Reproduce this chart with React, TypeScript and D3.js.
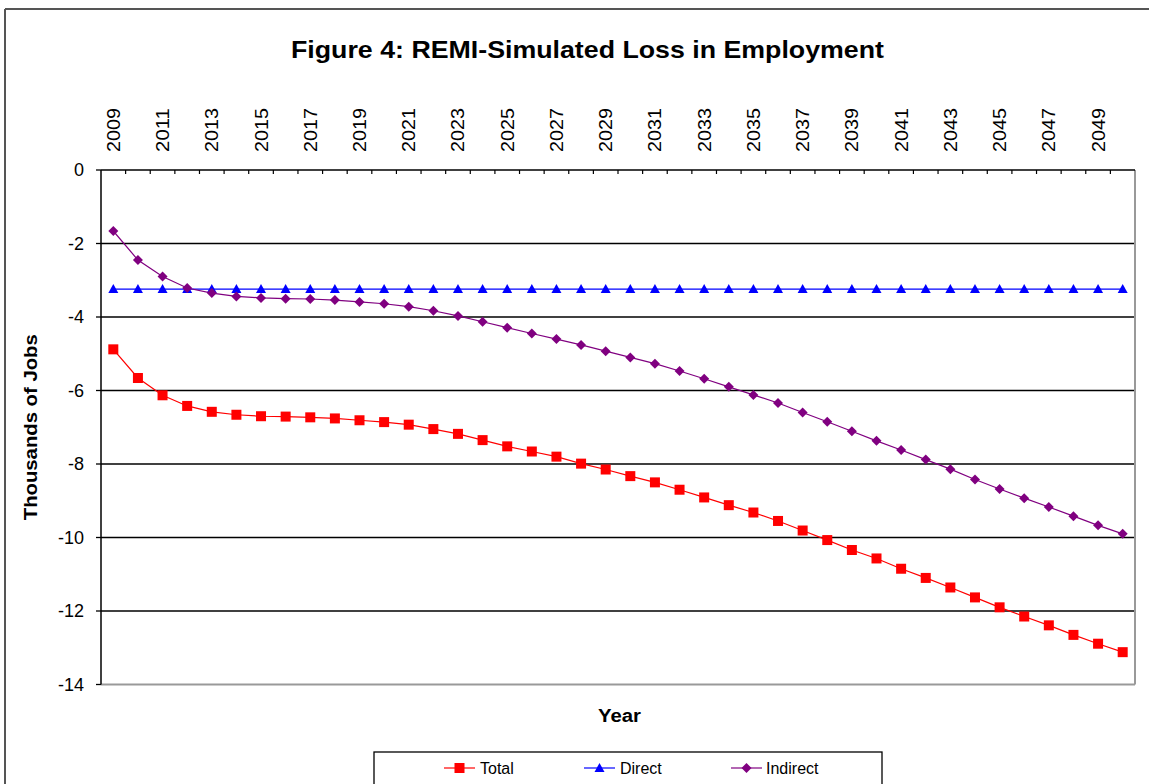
import React from "react";
import * as d3 from "d3";

const years = [
  "2009","2010","2011","2012","2013","2014","2015","2016","2017","2018",
  "2019","2020","2021","2022","2023","2024","2025","2026","2027","2028",
  "2029","2030","2031","2032","2033","2034","2035","2036","2037","2038",
  "2039","2040","2041","2042","2043","2044","2045","2046","2047","2048",
  "2049","2050",
];

const totalJobs = [
  -4.88, -5.66, -6.13, -6.42, -6.58, -6.66, -6.70, -6.71, -6.73, -6.76,
  -6.81, -6.86, -6.93, -7.05, -7.18, -7.35, -7.52, -7.66, -7.80, -7.99,
  -8.15, -8.33, -8.50, -8.70, -8.91, -9.12, -9.32, -9.55, -9.81, -10.07,
  -10.34, -10.57, -10.85, -11.10, -11.36, -11.63, -11.90, -12.15, -12.39, -12.65,
  -12.89, -13.12,
];

const directJobs = [
  -3.24, -3.24, -3.24, -3.24, -3.24, -3.24, -3.24, -3.24, -3.24, -3.24,
  -3.24, -3.24, -3.24, -3.24, -3.24, -3.24, -3.24, -3.24, -3.24, -3.24,
  -3.24, -3.24, -3.24, -3.24, -3.24, -3.24, -3.24, -3.24, -3.24, -3.24,
  -3.24, -3.24, -3.24, -3.24, -3.24, -3.24, -3.24, -3.24, -3.24, -3.24,
  -3.24, -3.24,
];

const indirectJobs = [
  -1.66, -2.45, -2.90, -3.21, -3.35, -3.44, -3.48, -3.50, -3.51, -3.54,
  -3.59, -3.64, -3.72, -3.83, -3.97, -4.13, -4.29, -4.45, -4.60, -4.76,
  -4.93, -5.10, -5.27, -5.47, -5.68, -5.90, -6.12, -6.34, -6.60, -6.85,
  -7.11, -7.37, -7.62, -7.88, -8.14, -8.42, -8.68, -8.93, -9.17, -9.42,
  -9.67, -9.90,
];

const yTicks = [0, -2, -4, -6, -8, -10, -12, -14];
const yearLabels = years.filter((_, i) => i % 2 === 0);

const seriesNames = ["Total", "Direct", "Indirect"];
const seriesColors = ["#FF0000", "#0000FF", "#800080"];
const seriesShapes = ["square", "triangle", "diamond"];
const seriesData = [totalJobs, directJobs, indirectJobs];

const W = 1149;
const H = 784;
const plot = { left: 101, right: 1135, top: 170, bottom: 684.5 };
const FONT = "Arial, 'Liberation Sans', Helvetica, sans-serif";

function Marker({ shape, x, y, color }: { shape: string; x: number; y: number; color: string }) {
  if (shape === "square") {
    return <rect x={x - 5} y={y - 5} width={10} height={10} fill={color} />;
  }
  if (shape === "triangle") {
    return <path d={`M${x},${y - 5}L${x + 5},${y + 4}L${x - 5},${y + 4}Z`} fill={color} />;
  }
  return <path d={`M${x},${y - 5}L${x + 5},${y}L${x},${y + 5}L${x - 5},${y}Z`} fill={color} />;
}

export default function App() {
  const x = d3.scaleBand<string>().domain(years).range([plot.left, plot.right]).padding(0);
  const y = d3.scaleLinear().domain([-14, 0]).range([plot.bottom, plot.top]);
  const cx = (yr: string) => (x(yr) as number) + x.bandwidth() / 2;

  const line = d3
    .line<number>()
    .x((_, i) => cx(years[i]))
    .y((d) => y(d));

  const bandEdges = years.map((yr) => (x(yr) as number) + x.bandwidth()).slice(0, -1);

  const legendItems = [
    { lx: 444, tx: 480 },
    { lx: 584, tx: 620 },
    { lx: 731, tx: 766 },
  ];

  return (
    <svg
      width={W}
      height={H}
      style={{ position: "fixed", left: 0, top: 0, background: "#fff" }}
      fontFamily={FONT}
    >
      <rect x={0} y={0} width={W} height={H} fill="#fff" />
      {/* outer chart frame */}
      <line x1={5} y1={9} x2={W + 2} y2={9} stroke="#555" strokeWidth={2} />
      <line x1={5} y1={9} x2={5} y2={H + 2} stroke="#555" strokeWidth={2} />

      {/* title */}
      <text
        x={291}
        y={58}
        fontSize={24}
        fontWeight="bold"
        fill="#000"
        textLength={593}
        lengthAdjust="spacingAndGlyphs"
      >
        Figure 4: REMI-Simulated Loss in Employment
      </text>

      {/* gridlines */}
      {yTicks
        .filter((t) => t !== 0 && t !== -14)
        .map((t) => (
          <line key={t} x1={plot.left} x2={plot.right} y1={y(t)} y2={y(t)} stroke="#000" strokeWidth={1.3} />
        ))}

      {/* plot border right & bottom (gray) */}
      <line x1={plot.right} y1={plot.top} x2={plot.right} y2={plot.bottom} stroke="#999" strokeWidth={2} />
      <line x1={plot.left} y1={plot.bottom} x2={plot.right} y2={plot.bottom} stroke="#999" strokeWidth={2} />

      {/* left axis */}
      <line x1={plot.left} y1={plot.top} x2={plot.left} y2={plot.bottom} stroke="#000" strokeWidth={1.5} />
      {yTicks.map((t) => (
        <g key={t}>
          <line x1={plot.left - 5} x2={plot.left} y1={y(t)} y2={y(t)} stroke="#000" strokeWidth={1.3} />
          <text x={84} y={y(t)} dy="0.35em" textAnchor="end" fontSize={18} fill="#000">
            {t}
          </text>
        </g>
      ))}

      {/* top category axis */}
      <line x1={plot.left} y1={plot.top} x2={plot.right} y2={plot.top} stroke="#000" strokeWidth={1.5} />
      {bandEdges.map((e, i) => (
        <line key={i} x1={e} x2={e} y1={plot.top} y2={plot.top + 4} stroke="#000" strokeWidth={1.2} />
      ))}
      {yearLabels.map((yr) => (
        <text
          key={yr}
          transform={`translate(${cx(yr) + 6.5},152) rotate(-90)`}
          textAnchor="start"
          fontSize={18}
          fill="#000"
          textLength={44}
          lengthAdjust="spacingAndGlyphs"
        >
          {yr}
        </text>
      ))}

      {/* series */}
      {seriesData.map((data, si) => (
        <g key={seriesNames[si]}>
          <path d={line(data) as string} fill="none" stroke={seriesColors[si]} strokeWidth={1.2} />
          {data.map((v, i) => (
            <Marker key={i} shape={seriesShapes[si]} x={cx(years[i])} y={y(v)} color={seriesColors[si]} />
          ))}
        </g>
      ))}

      {/* axis titles */}
      <text
        transform={`translate(37,${(plot.top + plot.bottom) / 2 - 93}) rotate(-90)`}
        textAnchor="end"
        fontSize={18}
        fontWeight="bold"
        fill="#000"
        textLength={186}
        lengthAdjust="spacingAndGlyphs"
      >
        Thousands of Jobs
      </text>
      <text x={598} y={722} fontSize={18} fontWeight="bold" fill="#000" textLength={43} lengthAdjust="spacingAndGlyphs">
        Year
      </text>

      {/* legend */}
      <rect x={374} y={752} width={508} height={40} fill="#fff" stroke="#000" strokeWidth={1.3} />
      {seriesNames.map((n, i) => (
        <g key={n}>
          <line x1={legendItems[i].lx} x2={legendItems[i].lx + 31} y1={768} y2={768} stroke={seriesColors[i]} strokeWidth={1.2} />
          <Marker shape={seriesShapes[i]} x={legendItems[i].lx + 15.5} y={768} color={seriesColors[i]} />
          <text x={legendItems[i].tx} y={768} dy="0.37em" fontSize={16} fill="#000">
            {n}
          </text>
        </g>
      ))}
    </svg>
  );
}
